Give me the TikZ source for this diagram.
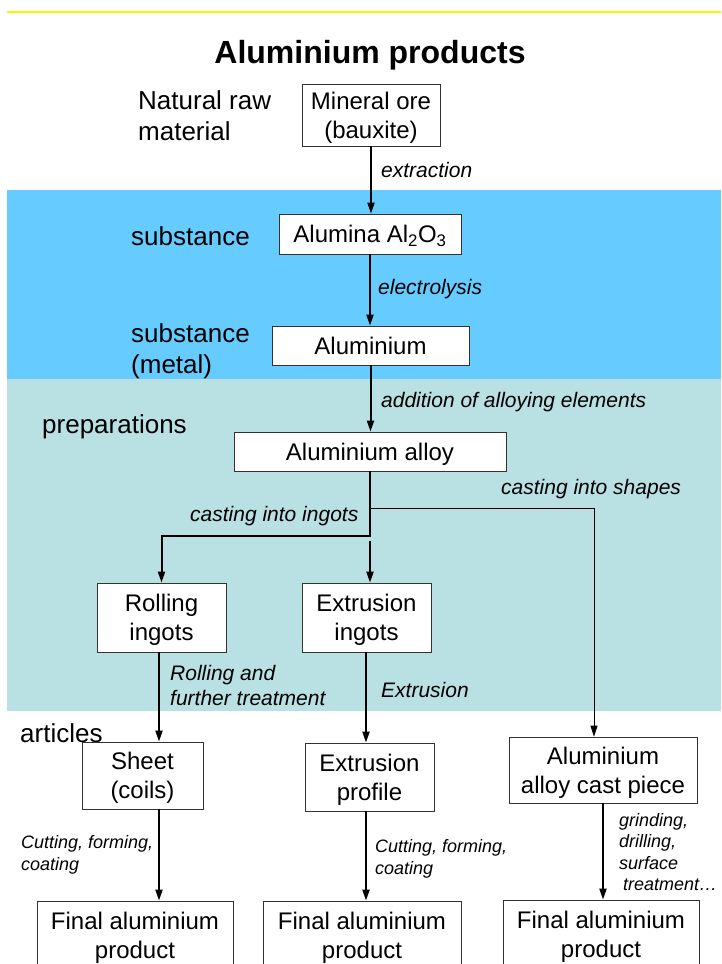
\documentclass[tikz,border=0pt]{standalone}
\usepackage{fontspec}
\setmainfont{Liberation Sans}
\usepackage{xcolor}
\usetikzlibrary{positioning,arrows.meta}
\definecolor{skyband}{RGB}{102,204,255}
\definecolor{tealband}{RGB}{185,224,227}

\begin{document}
\begin{tikzpicture}[x=1pt,y=-1pt,
                box/.style = {draw=black!80, line width=0.8pt, fill=white, align=center, inner sep=0pt,
                              text depth=0pt, font=\fontsize{24}{29}\selectfont},
                lvl/.style = {anchor=west, align=left, inner sep=0pt, text depth=0pt, font=\fontsize{26}{31}\selectfont},
                lbl/.style = {anchor=west, align=left, inner sep=0pt, text depth=0pt, font=\fontsize{21}{25}\selectfont\itshape},
                sml/.style = {anchor=west, align=left, inner sep=0pt, text depth=0pt, font=\fontsize{18}{21.6}\selectfont\itshape},
                flow/.style = {line width=2pt, -{Triangle[length=11pt,width=7pt]}},
                thinflow/.style = {line width=1pt, -{Triangle[length=11pt,width=7pt]}}]
            \useasboundingbox (0,0) rectangle (721,964);
            \fill[skyband] (7,190) rectangle (721,379);
            \fill[tealband] (7,379) rectangle (721,711);
            \draw[yellow, line width=1.5pt] (7,12) -- (721,12);

            \node[font=\fontsize{32}{38}\selectfont\bfseries] (title) at (370,55) {Aluminium products};

            \node[lvl] (raw) at (138,116) {Natural raw\\material};
            \node[lvl] (subst) at (131,236) {substance};
            \node[lvl] (metalLvl) at (131,349) {substance\\(metal)};
            \node[lvl] (prep) at (42,424) {preparations};
            \node[lvl] (art) at (20,733) {articles};

            \node[box, minimum width=138pt, minimum height=62pt] (ore) at (371,115) {Mineral ore\\(bauxite)};
            \node[box, minimum width=182pt, minimum height=40pt] (alumina) at (370,234) {Alumina Al\textsubscript{2}O\textsubscript{3}};
            \node[box, minimum width=197pt, minimum height=39pt] (metal) at (370.5,345.5) {Aluminium};
            \node[box, minimum width=272pt, minimum height=39pt] (alloy) at (370,451.5) {Aluminium alloy};
            \node[box, minimum width=129pt, minimum height=69pt] (rollIng) at (161.5,617.5) {Rolling\\ingots};
            \node[box, minimum width=129pt, minimum height=69pt] (extrIng) at (366.5,617.5) {Extrusion\\ingots};
            \node[box, minimum width=121pt, minimum height=67pt] (sheet) at (142.5,775.5) {Sheet\\(coils)};
            \node[box, minimum width=129pt, minimum height=68pt] (profile) at (369.5,777) {Extrusion\\profile};
            \node[box, minimum width=188pt, minimum height=66pt] (cast) at (603,770) {Aluminium\\alloy cast piece};
            \node[box, minimum width=196pt, minimum height=68pt] (final1) at (135,935) {Final aluminium\\product};
            \node[box, minimum width=198pt, minimum height=68pt] (final2) at (362,935) {Final aluminium\\product};
            \node[box, minimum width=196pt, minimum height=68pt] (final3) at (601,934) {Final aluminium\\product};

            \coordinate (colA) at (159,0);
            \coordinate (colB) at (366,0);
            \coordinate (colC) at (603,0);
            \coordinate (split) at (370,536);
            \coordinate (split2) at (370,541);
            \coordinate (fork) at (370,508);
            \coordinate (shapes) at (594,508);

            \draw[flow] (ore.south) -- (ore.south |- alumina.north);
            \draw[flow] (alumina.south) -- (alumina.south |- metal.north);
            \draw[flow] (metal.south) -- (metal.south |- alloy.north);
            \draw[thinflow] (fork) -- (shapes) -- (shapes |- cast.north);
            \draw[flow] (alloy.south) -- (split) -| (rollIng.north);
            \draw[flow] (split2) -- (split2 |- extrIng.north);
            \draw[flow] (rollIng.south -| colA) -- (sheet.north -| colA);
            \draw[flow] (extrIng.south -| colB) -- (profile.north -| colB);
            \draw[flow] (sheet.south -| colA) -- (final1.north -| colA);
            \draw[flow] (profile.south -| colB) -- (final2.north -| colB);
            \draw[flow] (cast.south -| colC) -- (final3.north -| colC);

            \node[lbl] (lExtr) at (381,170) {extraction};
            \node[lbl] (lElec) at (378,287) {electrolysis};
            \node[lbl] (lAdd) at (381,400) {addition of alloying elements};
            \node[lbl] (lShape) at (501,487) {casting into shapes};
            \node[lbl] (lIngot) at (190,514) {casting into ingots};
            \node[lbl] (lRoll) at (170,685) {Rolling and\\further treatment};
            \node[lbl] (lExtru) at (381,690) {Extrusion};
            \node[sml] (lCut1) at (21,853) {Cutting, forming,\\coating};
            \node[sml] (lCut2) at (375,857) {Cutting, forming,\\coating};
            \node[sml] (lGrind) at (619,852) {grinding,\\drilling,\\surface\\\hspace*{4pt}treatment\dots};
\end{tikzpicture}
\end{document}
